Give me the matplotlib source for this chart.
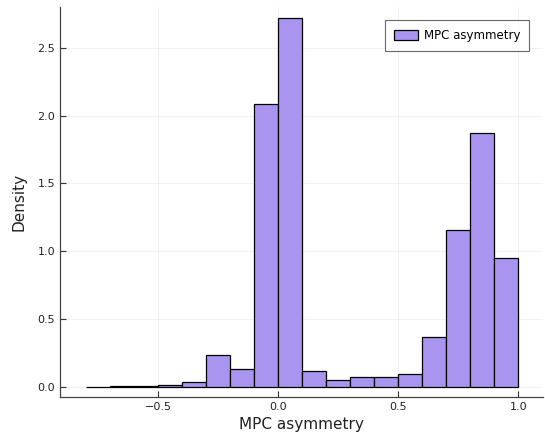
import matplotlib
matplotlib.use("Agg")
import matplotlib.pyplot as plt
import numpy as np

bin_edges = [-0.8, -0.7, -0.6, -0.5, -0.4, -0.3, -0.2, -0.1, 0.0, 0.1, 0.2,
             0.3, 0.4, 0.5, 0.6, 0.7, 0.8, 0.9, 1.0]
density = [0.002, 0.005, 0.01, 0.015, 0.035, 0.236, 0.13, 2.087, 2.72, 0.12,
           0.05, 0.07, 0.07, 0.095, 0.37, 1.16, 1.875, 0.95]
xticks = [-0.5, 0.0, 0.5, 1.0]
yticks = [0.0, 0.5, 1.0, 1.5, 2.0, 2.5]

fig = plt.figure(figsize=(5.45, 4.46), dpi=100)
ax = fig.add_axes([60/545, 49/446, (543-60)/545, (397-7)/446])

edges = np.array(bin_edges)
ax.bar(edges[:-1], density, width=np.diff(edges), align='edge',
       color='#a995f0', edgecolor='black', linewidth=0.9, label='MPC asymmetry', zorder=2)

ax.set_xlim(-0.91, 1.103)
ax.set_ylim(-0.074, 2.80)
ax.set_xticks(xticks)
ax.set_yticks(yticks)
ax.set_xticklabels(['\u22120.5', '0.0', '0.5', '1.0'])
ax.set_yticklabels(['0.0', '0.5', '1.0', '1.5', '2.0', '2.5'])
ax.tick_params(direction='in', length=4, width=0.8, labelsize=8, colors='#333333', labelcolor='#222222')
ax.grid(True, color='black', alpha=0.05, linewidth=0.8, zorder=0)
ax.set_axisbelow(True)
for s in ['top', 'right']:
    ax.spines[s].set_visible(False)
for s in ['left', 'bottom']:
    ax.spines[s].set_color('#444444')
    ax.spines[s].set_linewidth(0.9)

ax.set_xlabel('MPC asymmetry', fontsize=11, color='#222222', labelpad=4)
ax.set_ylabel('Density', fontsize=11, color='#222222', labelpad=8)

leg = ax.legend(loc='upper right', fontsize=8.5, frameon=True, fancybox=False,
                edgecolor='#444444', borderpad=0.75, handlelength=2.1, handleheight=1.0,
                handletextpad=0.45, borderaxespad=0,
                bbox_to_anchor=((529-60)/483, (397-20)/390))
leg.get_frame().set_linewidth(0.8)

fig.savefig('out.png', dpi=100)
